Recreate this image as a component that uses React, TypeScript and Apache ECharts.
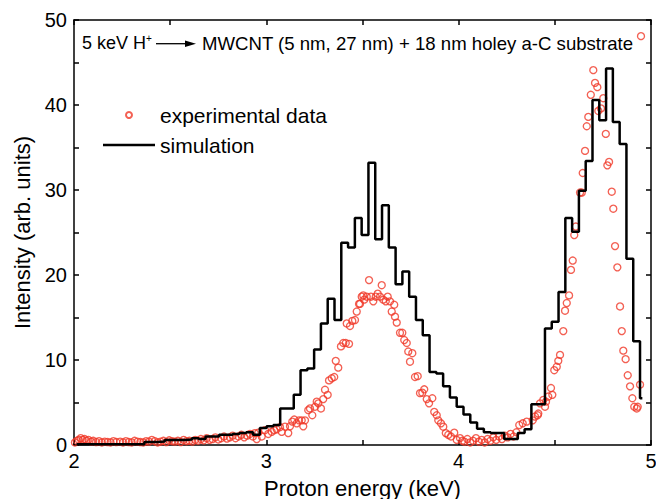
import React, { useEffect, useRef } from "react";
import * as echarts from "echarts";

const FONT = "'Liberation Sans', Arial, sans-serif";

// axis ranges and labelled ticks
const X_MIN = 2;
const X_MAX = 5;
const Y_MIN = 0;
const Y_MAX = 50;
const xTickLabels = [2, 3, 4, 5];
const yTickLabels = [0, 10, 20, 30, 40, 50];

// simulation histogram: uniform bins starting at SIM_START, width SIM_BIN
const SIM_START = 2.013;
const SIM_BIN = 0.0353;
const SIM_END = 4.955;
const simIntensity = [
  0.1, 0.1, 0.1, 0.1, 0.1, 0.1, 0.1, 0.1, 0.1, 0.1,
  0.35, 0.35, 0.4, 0.6, 0.6, 0.6, 0.65, 0.8, 0.7, 1.0,
  1.0, 1.2, 1.2, 1.3, 1.4, 1.5, 1.2, 2.0, 2.2, 2.35,
  4.3, 4.3, 5.9, 8.8, 9.0, 11.25, 14.3, 17.2, 14.7, 23.8,
  23.25, 26.7, 24.7, 33.2, 24.2, 28.2, 23.25, 18.9, 20.4, 17.45,
  14.7, 12.9, 8.6, 8.4, 6.9, 5.6, 4.5, 3.6, 2.65, 1.9,
  1.5, 1.4, 1.4, 0.7, 0.7, 1.4, 1.85, 4.8, 4.8, 13.7,
  14.5, 18.0, 26.7, 25.1, 29.9, 33.4, 40.6, 38.2, 44.3, 38.0,
  35.4, 21.9, 12.2, 5.5,
];

// experimental data: [energy keV, intensity]
const experimental: [number, number][] = [
  [2.005, 0.3], [2.015, 0.5], [2.025, 0.6], [2.035, 0.8], [2.045, 0.6], [2.055, 0.7],
  [2.065, 0.5], [2.075, 0.6], [2.09, 0.4], [2.1, 0.5], [2.115, 0.35], [2.13, 0.45],
  [2.145, 0.3], [2.16, 0.4], [2.175, 0.35], [2.19, 0.3], [2.205, 0.45], [2.22, 0.35],
  [2.24, 0.4], [2.255, 0.3], [2.27, 0.45], [2.285, 0.35], [2.3, 0.3], [2.315, 0.5],
  [2.33, 0.4], [2.345, 0.35], [2.36, 0.3], [2.375, 0.45], [2.39, 0.4], [2.405, 0.6],
  [2.42, 0.45], [2.435, 0.3], [2.45, 0.4], [2.465, 0.5], [2.48, 0.35], [2.495, 0.55],
  [2.51, 0.45], [2.525, 0.4], [2.54, 0.5], [2.555, 0.35], [2.57, 0.6], [2.585, 0.45],
  [2.6, 0.5], [2.615, 0.4], [2.63, 0.6], [2.645, 0.5], [2.66, 0.7], [2.675, 0.55],
  [2.69, 0.8], [2.705, 0.6], [2.72, 0.7], [2.735, 0.9], [2.75, 0.65], [2.765, 0.8],
  [2.78, 1.0], [2.795, 0.75], [2.81, 0.9], [2.825, 1.1], [2.84, 0.8], [2.855, 1.0],
  [2.87, 1.2], [2.885, 0.9], [2.9, 1.1], [2.915, 1.3], [2.93, 1.0], [2.94, 1.4],
  [2.95, 0.7], [2.958, 1.45], [2.976, 1.0], [2.993, 1.75], [3.01, 1.3], [3.028, 1.55],
  [3.041, 1.75], [3.054, 1.85], [3.071, 2.1], [3.08, 1.55], [3.097, 2.15], [3.114, 1.4],
  [3.123, 2.2], [3.135, 2.75], [3.145, 3.0], [3.158, 2.55], [3.17, 2.9], [3.184, 2.9],
  [3.192, 2.2], [3.201, 2.9], [3.218, 4.1], [3.227, 4.3], [3.239, 3.5], [3.253, 4.5],
  [3.262, 5.1], [3.27, 4.9], [3.284, 4.3], [3.296, 5.4], [3.305, 6.5], [3.319, 5.9],
  [3.326, 7.6], [3.34, 7.85], [3.353, 8.0], [3.361, 9.9], [3.374, 9.1], [3.388, 11.6],
  [3.4, 12.0], [3.413, 12.0], [3.418, 14.3], [3.43, 11.9], [3.435, 14.0], [3.447, 14.6],
  [3.461, 14.7], [3.47, 15.7], [3.482, 16.6], [3.487, 16.6], [3.496, 17.45], [3.504, 17.6],
  [3.509, 17.1], [3.522, 17.45], [3.534, 19.4], [3.544, 17.45], [3.556, 16.9], [3.569, 17.45],
  [3.579, 17.8], [3.591, 17.45], [3.6, 18.8], [3.608, 17.1], [3.621, 16.9], [3.631, 17.45],
  [3.643, 16.9], [3.652, 15.7], [3.665, 16.5], [3.669, 15.1], [3.678, 14.4], [3.695, 13.2],
  [3.707, 13.2], [3.717, 12.35], [3.73, 12.0], [3.738, 11.0], [3.747, 9.8], [3.759, 10.8],
  [3.773, 8.0], [3.787, 8.1], [3.799, 6.1], [3.811, 6.15], [3.821, 6.55], [3.834, 5.4],
  [3.846, 4.9], [3.863, 5.5], [3.873, 3.9], [3.886, 3.5], [3.894, 2.9], [3.908, 2.55],
  [3.92, 2.15], [3.933, 1.4], [3.946, 1.2], [3.96, 1.0], [3.977, 1.45], [3.99, 0.6],
  [4.007, 0.8], [4.019, 0.5], [4.03, 0.4], [4.045, 0.7], [4.06, 0.3], [4.075, 0.5],
  [4.09, 0.8], [4.105, 0.4], [4.12, 0.6], [4.135, 0.3], [4.15, 0.7], [4.165, 0.5],
  [4.18, 0.9], [4.195, 0.6], [4.21, 1.0], [4.225, 0.7], [4.24, 1.1], [4.255, 0.9],
  [4.27, 1.3], [4.285, 1.0], [4.3, 1.5], [4.315, 2.35], [4.333, 2.55], [4.354, 2.75],
  [4.385, 2.9], [4.397, 3.35], [4.411, 3.5], [4.414, 3.7], [4.423, 4.9], [4.44, 5.3],
  [4.449, 4.5], [4.454, 5.1], [4.466, 5.7], [4.48, 6.7], [4.487, 5.9], [4.497, 8.8],
  [4.51, 9.2], [4.518, 9.9], [4.527, 10.6], [4.544, 13.4], [4.553, 15.8], [4.562, 16.7],
  [4.574, 17.6], [4.584, 20.6], [4.593, 21.7], [4.601, 24.7], [4.609, 25.7], [4.631, 29.7],
  [4.64, 29.7], [4.645, 32.0], [4.657, 34.6], [4.666, 37.5], [4.674, 38.6], [4.687, 41.2],
  [4.7, 44.1], [4.709, 42.6], [4.721, 42.1], [4.726, 39.3], [4.74, 39.6], [4.752, 40.8],
  [4.765, 36.6], [4.773, 32.9], [4.782, 33.3], [4.796, 29.8], [4.804, 27.8], [4.813, 23.4],
  [4.825, 20.9], [4.839, 16.3], [4.848, 13.4], [4.856, 11.1], [4.868, 10.1], [4.879, 8.2],
  [4.891, 6.9], [4.903, 5.5], [4.913, 4.5], [4.926, 4.3], [4.931, 4.5], [4.943, 7.1],
  [4.948, 48.1],
];

const SERIES_EXP = "experimental data";
const SERIES_SIM = "simulation";
const ANNOT_LEFT = "5 keV H";
const ANNOT_SUP = "+";
const ANNOT_RIGHT = "MWCNT (5 nm, 27 nm) + 18 nm holey a-C substrate";

export default function App() {
  const ref = useRef<HTMLDivElement>(null);

  useEffect(() => {
    if (!ref.current) return;
    const chart = echarts.init(ref.current, null, { renderer: "svg" });

    const simData: [number, number][] = simIntensity.map((v, k) => [
      +(SIM_START + k * SIM_BIN).toFixed(4),
      v,
    ]);
    simData.push([SIM_END, simIntensity[simIntensity.length - 1]]);

    const axisLine = { show: true, onZero: false, lineStyle: { color: "#000", width: 1.5 } };
    const axisTick = { show: true, inside: true, length: 5, lineStyle: { color: "#000", width: 1.5 } };

    const option: any = {
      animation: false,
      backgroundColor: "#fff",
      grid: { left: 74, right: 5, top: 20, bottom: 54, containLabel: false, outerBoundsMode: "none" },
      legend: {
        orient: "vertical",
        left: 103,
        top: 104,
        padding: 0,
        itemWidth: 52,
        itemHeight: 6,
        itemGap: 8,
        itemTextGap: 7,
        textStyle: { fontSize: 21, color: "#000", fontFamily: FONT, lineHeight: 22 },
        data: [
          { name: SERIES_EXP, icon: "circle" },
          { name: SERIES_SIM, icon: "path://M0,0H52V2.5H0Z" },
        ],
      },
      xAxis: [
        {
          type: "value",
          position: "bottom",
          min: X_MIN,
          max: X_MAX,
          interval: 0.5,
          axisLine,
          axisTick,
          splitLine: { show: false },
          axisLabel: {
            color: "#000",
            fontSize: 20,
            fontFamily: FONT,
            margin: 6,
            formatter: (v: number) => (xTickLabels.includes(v) ? String(v) : ""),
          },
          name: "Proton energy (keV)",
          nameLocation: "middle",
          nameGap: 32,
          nameTextStyle: { color: "#000", fontSize: 22, fontFamily: FONT },
        },
        {
          type: "value",
          position: "top",
          min: X_MIN,
          max: X_MAX,
          interval: 0.5,
          axisLine,
          axisTick,
          splitLine: { show: false },
          axisLabel: { show: false },
        },
      ],
      yAxis: [
        {
          type: "value",
          position: "left",
          min: Y_MIN,
          max: Y_MAX,
          interval: 5,
          axisLine,
          axisTick,
          splitLine: { show: false },
          axisLabel: {
            color: "#000",
            fontSize: 20,
            fontFamily: FONT,
            margin: 7,
            formatter: (v: number) => (yTickLabels.includes(v) ? String(v) : ""),
          },
          name: "Intensity (arb. units)",
          nameLocation: "middle",
          nameGap: 39,
          nameTextStyle: { color: "#000", fontSize: 22, fontFamily: FONT },
        },
        {
          type: "value",
          position: "right",
          min: Y_MIN,
          max: Y_MAX,
          interval: 5,
          axisLine,
          axisTick,
          splitLine: { show: false },
          axisLabel: { show: false },
        },
      ],
      series: [
        {
          name: SERIES_EXP,
          type: "scatter",
          xAxisIndex: 0,
          yAxisIndex: 0,
          symbol: "circle",
          symbolSize: 7,
          itemStyle: { color: "rgba(255,255,255,0)", borderColor: "#f03828", borderWidth: 1.35 },
          data: experimental,
          z: 2,
        },
        {
          name: SERIES_SIM,
          type: "line",
          xAxisIndex: 0,
          yAxisIndex: 0,
          step: "end",
          symbol: "none",
          showSymbol: false,
          lineStyle: { color: "#000", width: 2.5 },
          itemStyle: { color: "#000" },
          data: simData,
          z: 3,
        },
      ],
      graphic: [
        {
          type: "text",
          x: 82,
          y: 43,
          style: { text: ANNOT_LEFT, fontSize: 18, fontFamily: FONT, fill: "#000", verticalAlign: "middle", align: "left" },
        },
        {
          type: "text",
          x: 146,
          y: 38,
          style: { text: ANNOT_SUP, fontSize: 10, fontFamily: FONT, fill: "#000", verticalAlign: "middle", align: "left" },
        },
        {
          type: "line",
          shape: { x1: 156, y1: 43.7, x2: 188, y2: 43.7 },
          style: { stroke: "#000", lineWidth: 1.3 },
        },
        {
          type: "polygon",
          shape: { points: [[185, 40.5], [196, 43.7], [185, 47]] },
          style: { fill: "#000" },
        },
        {
          type: "text",
          x: 202,
          y: 43,
          style: { text: ANNOT_RIGHT, fontSize: 18.6, fontFamily: FONT, fill: "#000", verticalAlign: "middle", align: "left" },
        },
      ],
    };

    chart.setOption(option);
    return () => chart.dispose();
  }, []);

  return (
    <div
      ref={ref}
      style={{ position: "absolute", left: 0, top: 0, width: 656, height: 499, background: "#fff" }}
    />
  );
}
